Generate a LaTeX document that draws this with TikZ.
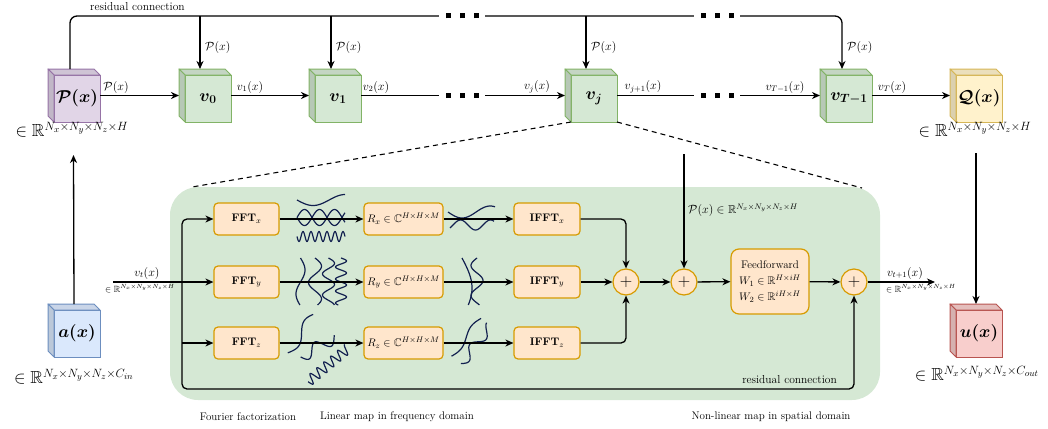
\documentclass[tikz,border=0pt]{standalone}
\usepackage{amsmath,amssymb,bm}
\usetikzlibrary{arrows.meta}
\definecolor{gfill}{HTML}{D5E8D4}
\definecolor{gline}{HTML}{82B366}
\definecolor{pfill}{HTML}{E1D5E7}
\definecolor{pline}{HTML}{9673A6}
\definecolor{yfill}{HTML}{FFF2CC}
\definecolor{yline}{HTML}{D6B656}
\definecolor{bfill}{HTML}{DAE8FC}
\definecolor{bline}{HTML}{6C8EBF}
\definecolor{rfill}{HTML}{F8CECC}
\definecolor{rline}{HTML}{B85450}
\definecolor{ofill}{HTML}{FFE6CC}
\definecolor{oline}{HTML}{D79B00}
\definecolor{navy}{HTML}{12204F}
\newcommand\mycube[6]{%
  \node[front, fill=#4, draw=#5] (#1f) at (#2,#3) {#6};
  \filldraw[fill=#4!92!black, draw=#5, line width=1pt, line join=round] (#1f.north west) -- ++(-6,-6) -- ++(46,0) -- (#1f.north east) -- cycle;
  \filldraw[fill=#4!86!black, draw=#5, line width=1pt, line join=round] (#1f.north west) -- ++(-6,-6) -- ++(0,47) -- (#1f.south west) -- cycle;
  \node[inner sep=0pt, outer sep=0pt, minimum width=52pt, minimum height=53pt] (#1) at (#2-3,#3-3) {};
}
\newcommand\dimR[1]{$\in\mathbb{R}^{N_x\times N_y\times N_z\times #1}$}
\newcommand\threedots{\rule[-2.5pt]{5pt}{5pt}\hspace{9pt}\rule[-2.5pt]{5pt}{5pt}\hspace{9pt}\rule[-2.5pt]{5pt}{5pt}}
\begin{document}
\begin{tikzpicture}[x=1pt,y=-1pt,
  front/.style={minimum width=46pt, minimum height=47pt, inner sep=0pt, outer sep=0pt, line width=1pt, font=\fontsize{18}{20}\selectfont},
  arr/.style={line width=1.3pt, -{Stealth[length=8pt,width=7pt,inset=2.5pt]}},
  box/.style={rounded corners=4pt, fill=ofill, draw=oline, line width=1.2pt, minimum height=32pt, inner sep=2pt, font=\fontsize{11}{13}\selectfont},
  sum/.style={circle, fill=ofill, draw=oline, line width=1.2pt, minimum size=26pt, inner sep=0pt, font=\fontsize{19}{19}\selectfont},
  lbl/.style={font=\fontsize{12}{14}\selectfont, inner sep=1pt},
  dimlbl/.style={font=\fontsize{17.5}{20}\selectfont, inner sep=0pt},
  txt/.style={font=\fontsize{11}{13}\selectfont, inner sep=1pt},
  rtxt/.style={font=\fontsize{11.5}{13}\selectfont, inner sep=1pt},
  dots/.style={fill=white, inner sep=0pt, minimum width=46pt, minimum height=9pt},
  wave/.style={draw=navy, line width=1.2pt, smooth},
  zoomdash/.style={line width=1.1pt, dash pattern=on 5pt off 4pt}
]
\useasboundingbox (0,0) rectangle (1048,428);

% green block
\node[fill=gfill, rounded corners=28pt, minimum width=710pt, minimum height=213pt, inner sep=0pt, outer sep=0pt] (G) at (525,293.5) {};

% cubes
\mycube{P}{77}{98.5}{pfill}{pline}{$\boldsymbol{\mathcal{P}(x)}$}
\mycube{v0}{208}{98.5}{gfill}{gline}{$\boldsymbol{v_0}$}
\mycube{v1}{338}{98.5}{gfill}{gline}{$\boldsymbol{v_1}$}
\mycube{vj}{594}{98.5}{gfill}{gline}{$\boldsymbol{v_j}$}
\mycube{vT}{849}{98.5}{gfill}{gline}{$\boldsymbol{v_{T-1}}$}
\mycube{Q}{979}{98.5}{yfill}{yline}{$\boldsymbol{\mathcal{Q}(x)}$}
\mycube{a}{77}{333.5}{bfill}{bline}{$\boldsymbol{a(x)}$}
\mycube{u}{979}{333.5}{rfill}{rline}{$\boldsymbol{u(x)}$}

% dimension labels
\node[dimlbl] (dP) at (72,130) {\dimR{H}};
\node[dimlbl] (dQ) at (975,130) {\dimR{H}};
\node[dimlbl] (da) at (74,377) {\dimR{C_{in}}};
\node[dimlbl] (du) at (977,374) {\dimR{C_{out}}};

% top residual line
\coordinate (tl) at (70,16);
\coordinate (tr) at (842,16);
\coordinate (t0) at (200,16);
\coordinate (t1) at (331,16);
\coordinate (tj) at (586,16);
\draw[arr, rounded corners=7pt] (P.north -| tl) -- (tl) -- (tr) -- (vT.north -| tr);
\draw[arr] (t0) -- (v0.north -| t0);
\draw[arr] (t1) -- (v1.north -| t1);
\draw[arr] (tj) -- (vj.north -| tj);
\node[rtxt, anchor=west] (rc1) at (89,7) {residual connection};
\node[lbl, anchor=west] (p0) at (204,47) {$\mathcal{P}(x)$};
\node[lbl, anchor=west] (p1) at (335,47) {$\mathcal{P}(x)$};
\node[lbl, anchor=west] (pj) at (590,47) {$\mathcal{P}(x)$};
\node[lbl, anchor=west] (pT) at (846,47) {$\mathcal{P}(x)$};
\node[dots] (d1) at (462,16) {\threedots};
\node[dots] (d2) at (717,16) {\threedots};

% main chain
\draw[arr] (P.east) -- (v0.west);
\draw[arr] (v0.east) -- (v1.west);
\draw[arr] (v1.east) -- (vj.west);
\draw[arr] (vj.east) -- (vT.west);
\draw[arr] (vT.east) -- (Q.west);
\node[dots] (d3) at (462,95.5) {\threedots};
\node[dots] (d4) at (717,95.5) {\threedots};
\node[lbl] (e0) at (116,87) {$\mathcal{P}(x)$};
\node[lbl] (e1) at (250,87) {$v_1(x)$};
\node[lbl] (e2) at (376,87) {$v_2(x)$};
\node[lbl] (e3) at (537,87) {$v_j(x)$};
\node[lbl] (e4) at (643,87) {$v_{j+1}(x)$};
\node[lbl] (e5) at (785,87) {$v_{T-1}(x)$};
\node[lbl] (e6) at (892,87) {$v_T(x)$};

% vertical connections (end below / start below the dimension labels)
\coordinate (aTop) at (73.5,155);
\coordinate (qBot) at (976,153);
\draw[arr] (a.north) -- (aTop);
\draw[arr] (qBot) -- (u.north);

% zoom dashed lines
\coordinate (dl) at (192,187);
\coordinate (dr) at (862,188);
\draw[zoomdash] (vjf.south west) -- (dl);
\draw[zoomdash] (vjf.south east) -- (dr);

% inner boxes
\node[box, minimum width=65pt] (FFTx) at (246.5,219) {$\mathbf{FFT}_x$};
\node[box, minimum width=65pt] (FFTy) at (246.5,282) {$\mathbf{FFT}_y$};
\node[box, minimum width=65pt] (FFTz) at (246.5,343) {$\mathbf{FFT}_z$};
\node[box, minimum width=79pt] (Rx) at (403.5,219) {$R_x\in\mathbb{C}^{H\times H\times M}$};
\node[box, minimum width=79pt] (Ry) at (403.5,282) {$R_y\in\mathbb{C}^{H\times H\times M}$};
\node[box, minimum width=79pt] (Rz) at (403.5,343) {$R_z\in\mathbb{C}^{H\times H\times M}$};
\node[box, minimum width=66pt] (IFFTx) at (547,219) {$\mathbf{IFFT}_x$};
\node[box, minimum width=66pt] (IFFTy) at (547,282) {$\mathbf{IFFT}_y$};
\node[box, minimum width=66pt] (IFFTz) at (547,343) {$\mathbf{IFFT}_z$};
\node[sum] (S1) at (626,282) {$+$};
\node[sum] (S2) at (684,282) {$+$};
\node[sum] (S3) at (854,282) {$+$};
\node[box, rounded corners=8pt, minimum width=78pt, minimum height=65pt, align=center] (FF) at (770,281.5)
  {Feedforward\\[3pt] $W_1\in\mathbb{R}^{H\times iH}$\\[3pt] $W_2\in\mathbb{R}^{iH\times H}$};

% ---- waves before R (Fourier factorization)
% x row
\draw[wave] plot[domain=297:345,samples=50] (\x,{200+5.5*sin((\x-297)*5.6)});
\draw[wave] plot[domain=297:345,samples=60] (\x,{217.5+8*sin((\x-297)*12)});
\draw[wave] plot[domain=297:345,samples=60] (\x,{217.5-8*sin((\x-297)*12)});
\draw[wave] plot[domain=297:345,samples=160] (\x,{236.5+5*sin((\x-297)*45)});
% y row
\draw[wave] plot[domain=258:305,samples=50] ({300.5+4.5*sin((\x-258)*7.5)},\x);
\draw[wave] plot[domain=258:305,samples=50] ({315+6.5*sin((\x-258)*11)},\x);
\draw[wave] plot[domain=258:305,samples=60] ({328.5+6*sin((\x-258)*17)},\x);
\draw[wave] plot[domain=258:305,samples=120] ({341+5.5*sin((\x-258)*30)},\x);
% z row
\begin{scope}[shift={(301,334)}, rotate=55]
  \draw[wave] plot[domain=-23:23,samples=50] (\x,{5*sin((\x+23)*7.5)});
\end{scope}
\begin{scope}[shift={(318,347)}, rotate=30]
  \draw[wave] plot[domain=-20:20,samples=60] (\x,{6*sin((\x+20)*14)});
\end{scope}
\begin{scope}[shift={(328,365)}, rotate=40]
  \draw[wave] plot[domain=-26:26,samples=160] (\x,{5*sin((\x+26)*40)});
\end{scope}

% ---- waves after R
\draw[wave] plot[domain=448:495,samples=50] (\x,{212+6*sin((\x-448)*6.4)});
\draw[wave] plot[domain=450:494,samples=50] (\x,{225-5*sin((\x-453)*12)});
\draw[wave] plot[domain=258:305,samples=50] ({462+10*sin((\x-258)*3)},\x);
\draw[wave] plot[domain=258:305,samples=50] ({477-6*sin((\x-258)*12)},\x);
\begin{scope}[shift={(471,341)}, rotate=52]
  \draw[wave] plot[domain=-24:24,samples=50] (\x,{-6+3*sin((\x+24)*7.5)});
  \draw[wave] plot[domain=-24:24,samples=60] (\x,{6+5*sin((\x+24)*13)});
\end{scope}

% input
\coordinate (vin) at (113,282);
\coordinate (bx) at (182,282);
\coordinate (rb) at (854,389);
\draw[arr] (vin) -- (FFTy.west);
\draw[arr, rounded corners=5pt] (bx) |- (FFTx.west);
\draw[arr] (bx |- FFTz.west) -- (FFTz.west);
\draw[arr, rounded corners=5pt] (bx) |- (rb) -- (S3.south);
\node[lbl] (lvt) at (147,273) {$v_t(x)$};
\node[txt, font=\fontsize{9}{11}\selectfont] (lvtR) at (140,289) {\dimR{H}};

\draw[arr] (FFTx) -- (Rx);
\draw[arr] (FFTy) -- (Ry);
\draw[arr] (FFTz) -- (Rz);
\draw[arr] (Rx) -- (IFFTx);
\draw[arr] (Ry) -- (IFFTy);
\draw[arr] (Rz) -- (IFFTz);
\draw[arr, rounded corners=5pt] (IFFTx.east) -| (S1.north);
\draw[arr] (IFFTy.east) -- (S1.west);
\draw[arr, rounded corners=5pt] (IFFTz.east) -| (S1.south);
\draw[arr] (S1) -- (S2);
\draw[arr] (S2) -- (FF);
\draw[arr] (FF) -- (S3);
\coordinate (ptop) at (684,154);
\draw[arr] (ptop) -- (S2.north);
\node[lbl, anchor=west, font=\fontsize{11.5}{13}\selectfont] (pin) at (687,210) {$\mathcal{P}(x)\in\mathbb{R}^{N_x\times N_y\times N_z\times H}$};
\node[rtxt, anchor=east] (rc2) at (838,380) {residual connection};

% output
\coordinate (vout) at (935,282);
\draw[arr] (S3) -- (vout);
\node[lbl] (lvo) at (905,273) {$v_{t+1}(x)$};
\node[txt, font=\fontsize{9}{11}\selectfont] (lvoR) at (921,289) {\dimR{H}};

% bottom captions
\node[txt] (c1) at (248,417) {Fourier factorization};
\node[txt] (c2) at (397,417) {Linear map in frequency domain};
\node[txt] (c3) at (771,417) {Non-linear map in spatial domain};
\end{tikzpicture}
\end{document}
